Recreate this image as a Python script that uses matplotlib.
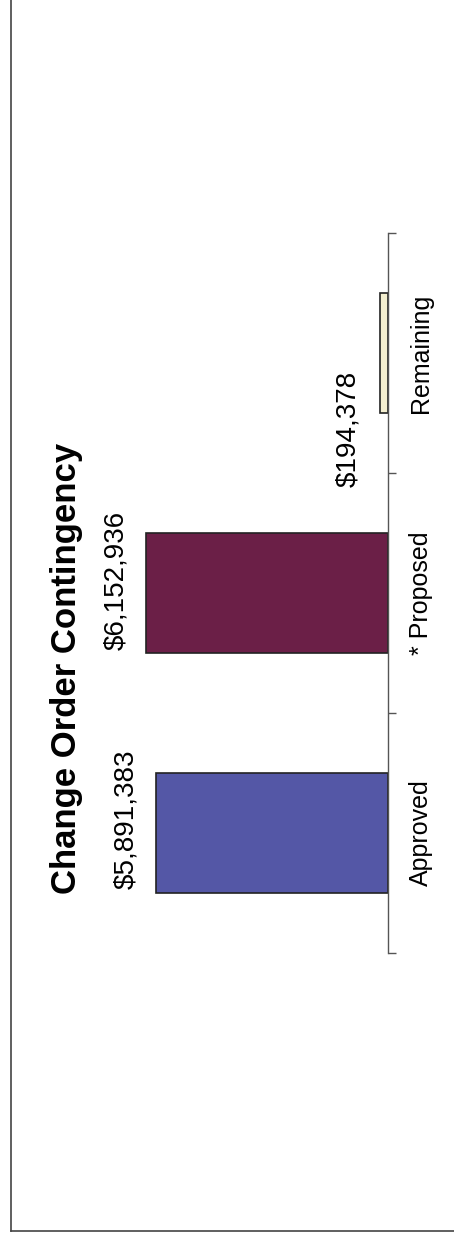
import matplotlib
matplotlib.use("Agg")
import matplotlib.pyplot as plt
from matplotlib.lines import Line2D

plt.rcParams['font.family'] = ['Liberation Sans', 'DejaVu Sans']

# data (bottom to top of the rotated chart)
categories = ["Approved", "* Proposed", "Remaining"]
values = [5891383, 6152936, 194378]
colors = ["#5457A6", "#6B1F47", "#F3EECF"]
title = "Change Order Contingency"

W, H = 454, 1236
fig = plt.figure(figsize=(W / 100, H / 100), dpi=100)

# axes placed in pixel units of the page
vmax = 7e6
base_x = 388
px_per_val = 242 / 6152936
left = base_x - vmax * px_per_val
ax = fig.add_axes([left / W, (H - 953) / H, (base_x - left) / W, 720 / H])

pos = list(range(len(categories)))
ax.barh(pos, values, height=0.5, color=colors, edgecolor="#222222", linewidth=1.2)
ax.set_xlim(vmax, 0)
ax.set_ylim(-0.5, len(categories) - 0.5)

for s in ["left", "top", "bottom"]:
    ax.spines[s].set_visible(False)
ax.spines["right"].set_color("#555555")
ax.spines["right"].set_linewidth(1.0)
ax.set_xticks([])
ax.yaxis.tick_right()
ax.set_yticks(pos)
ax.set_yticklabels(categories, rotation=90, fontsize=18)
ax.set_yticks([p - 0.5 for p in pos] + [pos[-1] + 0.5], minor=True)
ax.tick_params(axis="y", which="major", length=0, pad=15)
ax.tick_params(axis="y", which="minor", length=6, direction="out", color="#555555", width=1.0)
for lab in ax.get_yticklabels():
    lab.set_verticalalignment("center")

# value labels
offsets = [(-12, 10), (-12, 9), (-14, -55)]
for p, v, off in zip(pos, values, offsets):
    ax.annotate("${:,}".format(v), xy=(v, p), xytext=off, textcoords="offset points",
                rotation=90, ha="right", va="center", fontsize=20)

fig.text(67 / W, 1 - 668 / H, title, rotation=90, ha="center", va="center",
         fontsize=25, fontweight="bold")

# page border from the scan
fig.add_artist(Line2D([11 / W, 11 / W], [1 - 1231 / H, 1.0], transform=fig.transFigure,
                      color="#444444", linewidth=1.2))
fig.add_artist(Line2D([11 / W, 1.0], [1 - 1231 / H, 1 - 1231 / H], transform=fig.transFigure,
                      color="#444444", linewidth=1.2))

fig.savefig("out.png", dpi=100)
